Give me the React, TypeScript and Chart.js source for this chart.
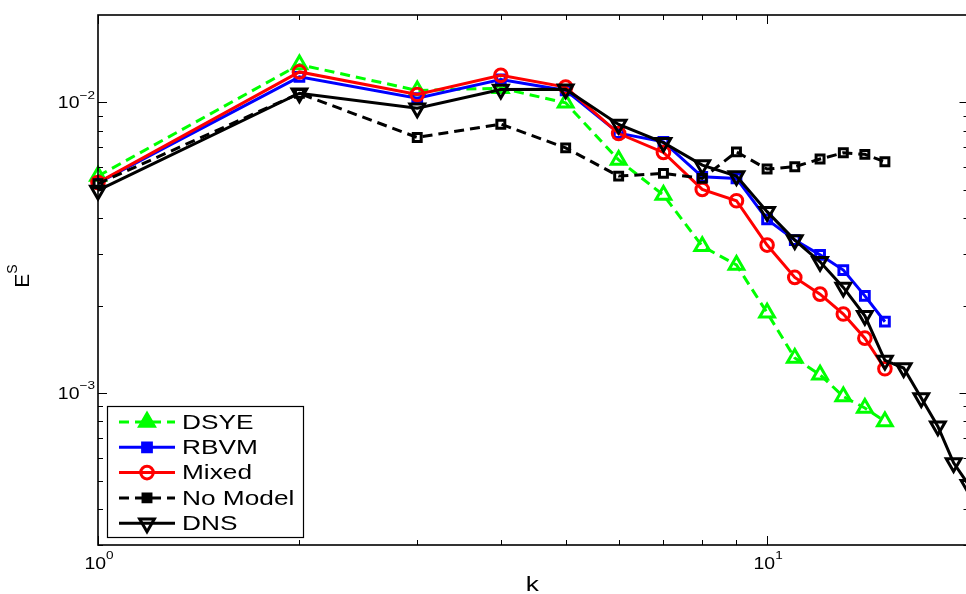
import React, { useEffect, useRef } from "react";
import { Chart, registerables } from "chart.js";

Chart.register(...registerables);

const kValues = [1, 2, 3, 4, 5, 6, 7, 8, 9, 10, 11, 12, 13, 14, 15, 16, 17, 18, 19, 20];
const dsye = [5.58e-3, 1.35e-2, 1.1e-2, 1.12e-2, 9.97e-3, 6.34e-3, 4.8e-3, 3.2e-3, 2.76e-3, 1.89e-3, 1.32e-3, 1.156e-3, 9.73e-4, 8.88e-4, 7.99e-4];
const rbvm = [5.29e-3, 1.225e-2, 1.035e-2, 1.2e-2, 1.1e-2, 7.84e-3, 7.32e-3, 5.55e-3, 5.48e-3, 3.96e-3, 3.36e-3, 2.99e-3, 2.65e-3, 2.16e-3, 1.76e-3];
const mixed = [5.3e-3, 1.274e-2, 1.065e-2, 1.24e-2, 1.13e-2, 7.82e-3, 6.73e-3, 5.02e-3, 4.59e-3, 3.23e-3, 2.5e-3, 2.19e-3, 1.87e-3, 1.545e-3, 1.212e-3];
const noModel = [5.25e-3, 1.075e-2, 7.58e-3, 8.42e-3, 6.98e-3, 5.58e-3, 5.7e-3, 5.48e-3, 6.76e-3, 5.9e-3, 6.01e-3, 6.39e-3, 6.71e-3, 6.63e-3, 6.25e-3];
const dns = [4.98e-3, 1.076e-2, 9.55e-3, 1.108e-2, 1.11e-2, 8.4e-3, 7.27e-3, 6.09e-3, 5.58e-3, 4.21e-3, 3.36e-3, 2.83e-3, 2.31e-3, 1.845e-3, 1.295e-3, 1.219e-3, 9.61e-4, 7.68e-4, 5.75e-4, 4.84e-4];

const xTickLabels = [{ v: 1, base: "10", exp: "0" }, { v: 10, base: "10", exp: "1" }];
const yTickLabels = [{ v: 1e-2, base: "10", exp: "\u22122" }, { v: 1e-3, base: "10", exp: "\u22123" }];

const FONT = "'Liberation Sans', Arial, Helvetica, sans-serif";

type SeriesStyle = {
  label: string;
  values: number[];
  color: string;
  dash: number[];
  pointStyle: string;
  radius: number;
  rotation: number;
  order: number;
};

const series: SeriesStyle[] = [
  { label: "DSYE", values: dsye, color: "#00ff00", dash: [10, 6], pointStyle: "triangle", radius: 8.5, rotation: 0, order: 4 },
  { label: "RBVM", values: rbvm, color: "#0000ff", dash: [], pointStyle: "rect", radius: 6.2, rotation: 0, order: 3 },
  { label: "Mixed", values: mixed, color: "#ff0000", dash: [], pointStyle: "circle", radius: 6.3, rotation: 0, order: 2 },
  { label: "No Model", values: noModel, color: "#000000", dash: [10, 6], pointStyle: "rect", radius: 5.6, rotation: 0, order: 1 },
  { label: "DNS", values: dns, color: "#000000", dash: [], pointStyle: "triangle", radius: 8.5, rotation: 180, order: 0 },
];

function drawMarker(ctx: CanvasRenderingContext2D, style: string, x: number, y: number, r: number, rot: number) {
  ctx.beginPath();
  if (style === "triangle") {
    let rad = (rot * Math.PI) / 180;
    ctx.moveTo(x + Math.sin(rad) * r, y - Math.cos(rad) * r);
    rad += (2 * Math.PI) / 3;
    ctx.lineTo(x + Math.sin(rad) * r, y - Math.cos(rad) * r);
    rad += (2 * Math.PI) / 3;
    ctx.lineTo(x + Math.sin(rad) * r, y - Math.cos(rad) * r);
    ctx.closePath();
  } else if (style === "rect") {
    const s = Math.SQRT1_2 * r;
    ctx.rect(x - s, y - s, 2 * s, 2 * s);
  } else {
    ctx.arc(x, y, r, 0, Math.PI * 2);
  }
  ctx.stroke();
}

function drawPow(
  ctx: CanvasRenderingContext2D,
  base: string,
  exp: string,
  x: number,
  y: number,
  size: number,
  expSize: number,
  sx: number,
  align: "center" | "right"
) {
  ctx.save();
  ctx.textAlign = "left";
  ctx.textBaseline = "alphabetic";
  ctx.font = `${size}px ${FONT}`;
  const wb = ctx.measureText(base).width;
  ctx.font = `${expSize}px ${FONT}`;
  const we = ctx.measureText(exp).width;
  const total = (wb + we) * sx;
  const start = align === "center" ? x - total / 2 : x - total;
  ctx.translate(start, y);
  ctx.scale(sx, 1);
  ctx.font = `${size}px ${FONT}`;
  ctx.fillText(base, 0, 0);
  ctx.font = `${expSize}px ${FONT}`;
  ctx.fillText(exp, wb, -size * 0.58);
  ctx.restore();
}

const axesPlugin = {
  id: "matlabAxes",
  beforeDraw(chart: any) {
    const { ctx, width, height } = chart;
    ctx.save();
    ctx.fillStyle = "#ffffff";
    ctx.fillRect(0, 0, width, height);
    ctx.restore();
  },
  afterDraw(chart: any) {
    const { ctx, chartArea: a, scales } = chart;
    const xs = scales.x;
    const ys = scales.y;
    ctx.save();
    ctx.strokeStyle = "#000";
    ctx.fillStyle = "#000";
    ctx.lineWidth = 1.6;
    ctx.strokeRect(a.left, a.top, a.right - a.left, a.bottom - a.top);

    ctx.lineWidth = 1;
    for (let d = 0; d <= 1; d++) {
      for (let m = 1; m <= 9; m++) {
        const v = m * Math.pow(10, d);
        if (v < xs.min || v >= xs.max) continue;
        const px = Math.round(xs.getPixelForValue(v)) + 0.5;
        const len = m === 1 ? 9 : 5;
        ctx.beginPath();
        ctx.moveTo(px, a.bottom);
        ctx.lineTo(px, a.bottom - len);
        ctx.moveTo(px, a.top);
        ctx.lineTo(px, a.top + len);
        ctx.stroke();
      }
    }
    for (let d = -4; d <= -2; d++) {
      for (let m = 1; m <= 9; m++) {
        const v = m * Math.pow(10, d);
        if (v <= ys.min || v >= ys.max) continue;
        const py = Math.round(ys.getPixelForValue(v)) + 0.5;
        const len = m === 1 ? 9 : 5;
        ctx.beginPath();
        ctx.moveTo(a.left, py);
        ctx.lineTo(a.left + len, py);
        ctx.moveTo(a.right, py);
        ctx.lineTo(a.right - len, py);
        ctx.stroke();
      }
    }

    for (const t of xTickLabels) {
      const px = xs.getPixelForValue(t.v);
      drawPow(ctx, t.base, t.exp, px + 1, a.bottom + 24, 16.5, 11.5, 1.18, "center");
    }
    for (const t of yTickLabels) {
      const py = ys.getPixelForValue(t.v);
      drawPow(ctx, t.base, t.exp, a.left - 3, py + 6, 16.5, 11.5, 1.18, "right");
    }

    ctx.save();
    ctx.font = `21px ${FONT}`;
    ctx.textAlign = "center";
    ctx.textBaseline = "alphabetic";
    ctx.translate((a.left + a.right) / 2 - 1, 591);
    ctx.scale(1.25, 1);
    ctx.fillText("k", 0, 0);
    ctx.restore();

    ctx.save();
    ctx.translate(29, 276);
    ctx.rotate(-Math.PI / 2);
    ctx.font = `21px ${FONT}`;
    const wE = ctx.measureText("E").width;
    ctx.font = `14px ${FONT}`;
    const wS = ctx.measureText("S").width;
    const tot = wE + wS;
    ctx.textAlign = "left";
    ctx.font = `21px ${FONT}`;
    ctx.fillText("E", -tot / 2, 0);
    ctx.font = `14px ${FONT}`;
    ctx.fillText("S", -tot / 2 + wE, -12);
    ctx.restore();

    const lx = 107.5, ly = 406.5, lw = 196, lh = 131;
    ctx.fillStyle = "#fff";
    ctx.fillRect(lx, ly, lw, lh);
    ctx.strokeStyle = "#000";
    ctx.lineWidth = 1.2;
    ctx.strokeRect(lx, ly, lw, lh);
    series.forEach((s, i) => {
      const cy = 422 + i * 25.3;
      ctx.save();
      ctx.strokeStyle = s.color;
      ctx.lineWidth = 3;
      ctx.setLineDash(s.dash);
      ctx.beginPath();
      ctx.moveTo(119, cy);
      ctx.lineTo(175, cy);
      ctx.stroke();
      ctx.setLineDash([]);
      if (s.label === "DSYE" || s.label === "RBVM" || s.label === "No Model") {
        ctx.fillStyle = s.color;
        drawMarker(ctx, s.pointStyle, 147, cy, s.radius, s.rotation);
        ctx.fill();
      } else {
        ctx.fillStyle = "#fff";
        drawMarker(ctx, s.pointStyle, 147, cy, s.radius, s.rotation);
      }
      ctx.restore();
      ctx.save();
      ctx.fillStyle = "#000";
      ctx.font = `20.5px ${FONT}`;
      ctx.textBaseline = "middle";
      ctx.textAlign = "left";
      ctx.translate(182, cy + 1);
      ctx.scale(1.28, 1);
      ctx.fillText(s.label, 0, 0);
      ctx.restore();
    });
    ctx.restore();
  },
};

export default function App() {
  const ref = useRef<HTMLCanvasElement | null>(null);
  useEffect(() => {
    if (!ref.current) return;
    const chart = new Chart(ref.current, {
      type: "line",
      data: {
        datasets: series.map((s) => ({
          label: s.label,
          data: s.values.map((v, i) => ({ x: kValues[i], y: v })),
          borderColor: s.color,
          borderWidth: 3,
          borderDash: s.dash,
          pointStyle: s.pointStyle as any,
          pointRadius: s.radius,
          pointRotation: s.rotation,
          pointBorderWidth: 3,
          pointBorderColor: s.color,
          pointBackgroundColor: "rgba(0,0,0,0)",
          tension: 0,
          fill: false,
          clip: false as any,
          order: s.order,
        })),
      },
      options: {
        responsive: false,
        devicePixelRatio: 1,
        animation: false,
        events: [],
        layout: { padding: { left: 98, top: 15, right: 10, bottom: 49 } },
        plugins: { legend: { display: false }, tooltip: { enabled: false } },
        scales: {
          x: { type: "logarithmic", min: 1, max: 20, display: false },
          y: { type: "logarithmic", min: 3e-4, max: 2e-2, display: false },
        },
      },
      plugins: [axesPlugin],
    });
    return () => chart.destroy();
  }, []);
  return (
    <div style={{ position: "fixed", left: 0, top: 0, width: 966, height: 594, overflow: "hidden", background: "#fff" }}>
      <canvas ref={ref} width={980} height={594} style={{ display: "block", width: 980, height: 594 }} />
    </div>
  );
}
